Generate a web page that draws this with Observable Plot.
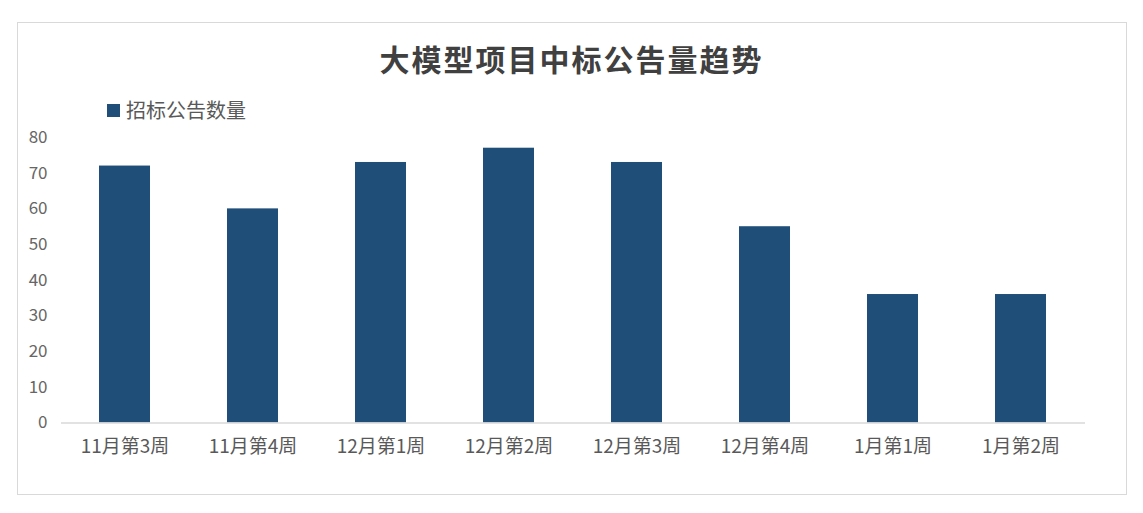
<!DOCTYPE html>
<html>
<head>
<meta charset="utf-8">
<script src="https://cdn.jsdelivr.net/npm/d3@7"></script>
<script src="https://cdn.jsdelivr.net/npm/@observablehq/plot@0.6"></script>
<style>
  html, body { margin: 0; padding: 0; background: #fff; }
  body { width: 1143px; height: 513px; position: relative; overflow: hidden; font-family: "Noto Sans CJK SC", "Noto Sans", sans-serif; }
  #frame { position: absolute; left: 17px; top: 22px; width: 1110px; height: 473px; border: 1px solid #d9d9d9; box-sizing: border-box; }
  #title { position: absolute; left: 0; width: 1143px; top: 38px; text-align: center; font-size: 30px; font-weight: bold; color: #404040; line-height: 40px; letter-spacing: 2px; }
  #legend { position: absolute; left: 107px; top: 96px; font-size: 20px; color: #595959; line-height: 28px; display: flex; align-items: center; }
  #legend .sw { width: 13px; height: 13px; background: #1F4E79; margin-right: 6px; display: inline-block; }
  #chart { position: absolute; left: 0; top: 120px; }
</style>
</head>
<body>
<div id="frame"></div>
<div id="title">大模型项目中标公告量趋势</div>
<div id="legend"><span class="sw"></span><span id="legendText"></span></div>
<div id="chart"></div>
<script>
const categories = ["11月第3周", "11月第4周", "12月第1周", "12月第2周", "12月第3周", "12月第4周", "1月第1周", "1月第2周"];
const values = [72, 60, 73, 77, 73, 55, 36, 36];
const seriesName = "招标公告数量";
const yTicks = [0, 10, 20, 30, 40, 50, 60, 70, 80];

document.getElementById("legendText").textContent = seriesName;

const data = categories.map((c, i) => ({week: c, value: values[i]}));

const chart = Plot.plot({
  width: 1143,
  height: 370,
  marginLeft: 61,
  marginRight: 58,
  marginTop: 17,
  marginBottom: 67.5,
  style: {background: "transparent", fontFamily: "'Noto Sans CJK SC', 'Noto Sans', sans-serif", color: "#595959"},
  x: {domain: categories, paddingInner: 0.6, paddingOuter: 0.3, label: null},
  y: {domain: [0, 80], label: null},
  marks: [
    Plot.axisY({ticks: yTicks, tickSize: 0, tickPadding: 14, fontSize: 17, fill: "#666666", label: null}),
    Plot.axisX({tickSize: 0, tickPadding: 16, fontSize: 19, fill: "#595959", label: null}),
    Plot.barY(data, {x: "week", y: "value", fill: "#1F4E79"}),
    Plot.ruleY([0], {stroke: "#d9d9d9", strokeWidth: 1.5})
  ]
});
document.getElementById("chart").appendChild(chart);
</script>
</body>
</html>
